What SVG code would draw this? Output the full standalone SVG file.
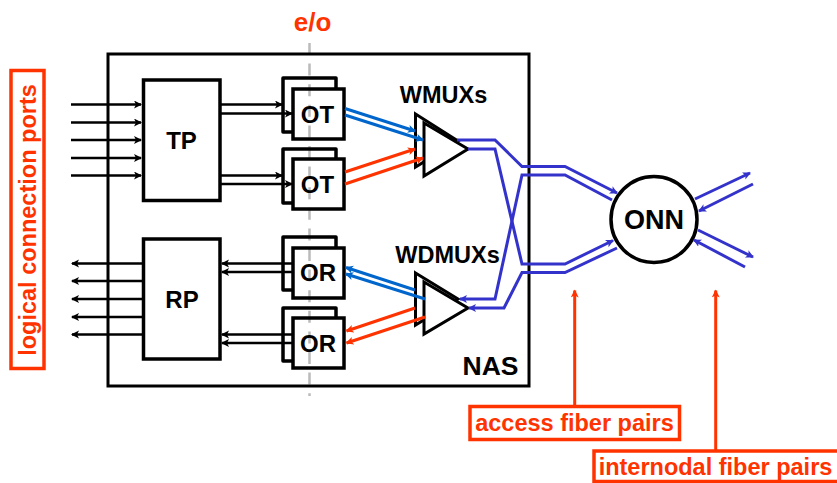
<svg xmlns="http://www.w3.org/2000/svg" width="837" height="483" viewBox="0 0 837 483">
<style>
text{font-family:"Liberation Sans",Arial,sans-serif;font-weight:bold;text-anchor:middle}
.b{fill:#fff;stroke:#000;stroke-width:3.5;stroke-linejoin:miter}
.v{fill:#fff;stroke:#000;stroke-width:3;stroke-linejoin:miter}
.f{fill:none;stroke:#000;stroke-width:3.5}
.o{fill:none;stroke:#000;stroke-width:3.500;stroke-linejoin:round}
.t{font-size:24px;fill:#000}
.k{stroke:#000;stroke-width:2.5;fill:none}
.u{stroke:#3333cc;stroke-width:3;fill:none;stroke-linejoin:miter}
.c{stroke:#0066cc;stroke-width:3;fill:none}
.r{stroke:#ff3300;stroke-width:3;fill:none}
.l{fill:#fff;stroke:#ff3300;stroke-width:3.5}
.lt{font-size:23.500px;fill:#ff3300}
</style>
<defs>
<marker id="ak" markerUnits="userSpaceOnUse" markerWidth="10" markerHeight="10" refX="7" refY="4" orient="auto"><path d="M0 0L8 4L0 8L2 4Z" fill="#000"/></marker>
<marker id="au" markerUnits="userSpaceOnUse" markerWidth="10" markerHeight="10" refX="7" refY="4" orient="auto"><path d="M0 0L8 4L0 8L2 4Z" fill="#3333cc"/></marker>
<marker id="ac" markerUnits="userSpaceOnUse" markerWidth="10" markerHeight="10" refX="7" refY="4" orient="auto"><path d="M0 0L8 4L0 8L2 4Z" fill="#0066cc"/></marker>
<marker id="ar" markerUnits="userSpaceOnUse" markerWidth="10" markerHeight="10" refX="7" refY="4" orient="auto"><path d="M0 0L8 4L0 8L2 4Z" fill="#ff3300"/></marker>
</defs>
<rect width="837" height="483" fill="#fff"/>
<path id="eo-line" d="M309.500 43V396" stroke="#bbbbbb" stroke-width="2.500" stroke-dasharray="12 8.600" fill="none"/>
<g id="nas"><rect x="108" y="54" width="421" height="332" fill="none" stroke="#000" stroke-width="3"/><text class="t" x="490.500" y="375" style="font-size:26.500px">NAS</text></g>
<g id="tp"><rect class="b" x="143.500" y="80" width="76.500" height="120.500"/><text class="t" x="181.500" y="148.500">TP</text></g>
<g id="rp"><rect class="b" x="143.500" y="239" width="76.500" height="120"/><text class="t" x="182" y="307.500">RP</text></g>
<g id="ot1"><path class="o" d="M293 132H283V78H336V89"/><rect class="f" x="293" y="89" width="51" height="50"/><text class="t" x="317.500" y="122.500">OT</text></g>
<g id="ot2"><path class="o" d="M293 203H283V149H336V159"/><rect class="f" x="293" y="159" width="51" height="50"/><text class="t" x="317.500" y="193">OT</text></g>
<g id="or1"><path class="o" d="M293 290H283V237H336V248"/><rect class="f" x="293" y="248" width="51" height="50"/><text class="t" x="318" y="281">OR</text></g>
<g id="or2"><path class="o" d="M293 361H283V308H336V318"/><rect class="f" x="293" y="318" width="51" height="50"/><text class="t" x="318" y="352">OR</text></g>
<g id="wmux"><path class="v" d="M415.500 114L458 141L415.500 167Z"/><path class="v" d="M424 123L468 149L424 176Z"/><text class="t" x="443.500" y="102.500" style="font-size:23.500px">WMUXs</text></g>
<g id="wdmux"><path class="v" d="M415.500 273L458 299L415.500 325Z"/><path class="v" d="M424 282L468 308L424 334Z"/><text class="t" x="447.500" y="263" style="font-size:23.500px">WDMUXs</text></g>
<g id="onn"><circle cx="654" cy="219.500" r="43" fill="#fff" stroke="#000" stroke-width="3.500"/><text class="t" x="654" y="228.500" style="font-size:27px">ONN</text></g>
<g id="connectors">
<g class="k">
<path d="M71 104.500H141" marker-end="url(#ak)"/><path d="M71 122.500H141" marker-end="url(#ak)"/><path d="M71 140H141" marker-end="url(#ak)"/><path d="M71 158H141" marker-end="url(#ak)"/><path d="M71 175.500H141" marker-end="url(#ak)"/>
<path d="M221 104.500H282" marker-end="url(#ak)"/><path d="M221 113.500H292" marker-end="url(#ak)"/><path d="M221 175.500H282" marker-end="url(#ak)"/><path d="M221 184H292" marker-end="url(#ak)"/>
<path d="M143 263.500H72" marker-end="url(#ak)"/><path d="M143 281H72" marker-end="url(#ak)"/><path d="M143 299H72" marker-end="url(#ak)"/><path d="M143 317H72" marker-end="url(#ak)"/><path d="M143 334.500H72" marker-end="url(#ak)"/>
<path d="M293 263.500H222" marker-end="url(#ak)"/><path d="M293 272H222" marker-end="url(#ak)"/><path d="M293 334.500H222" marker-end="url(#ak)"/><path d="M293 343H222" marker-end="url(#ak)"/>
</g>
<path class="c" d="M345 108.500L415 131" marker-end="url(#ac)"/><path class="c" d="M345 115L423 140" marker-end="url(#ac)"/>
<path class="r" d="M345 172L415 149" marker-end="url(#ar)"/><path class="r" d="M345 184L423 158" marker-end="url(#ar)"/>
<path class="c" d="M415 290L346 267.500" marker-end="url(#ac)"/><path class="c" d="M425 299L346 274" marker-end="url(#ac)"/>
<path class="r" d="M415 308L346.500 331" marker-end="url(#ar)"/><path class="r" d="M425 317L346.500 343" marker-end="url(#ar)"/>
<path class="u" d="M457 140H495L522 166.500H565L617 193" marker-end="url(#au)"/>
<path class="u" d="M468 149H495L522 264H565L613 240.500" marker-end="url(#au)"/>
<path class="u" d="M612 200L565 175H522L495 299H460" marker-end="url(#au)"/>
<path class="u" d="M617 248L565 272.500H522L504 308H469" marker-end="url(#au)"/>
<path class="u" d="M695 199L750 173" marker-end="url(#au)"/><path class="u" d="M753 184L699 211" marker-end="url(#au)"/>
<path class="u" d="M698 230L753 257" marker-end="url(#au)"/><path class="u" d="M745 267L694 240" marker-end="url(#au)"/>
<path class="r" d="M574.700 406V290.500" marker-end="url(#ar)"/><path class="r" d="M715.700 450V290.500" marker-end="url(#ar)"/>
</g>
<g id="eo"><text class="lt" x="312.500" y="30.500" style="font-size:26px">e/o</text></g>
<g id="ports"><rect class="l" x="11" y="70.500" width="33" height="298"/><text class="lt" transform="translate(36 220) rotate(-90)">logical connection ports</text></g>
<g id="access"><rect class="l" x="470" y="406.500" width="209.500" height="33"/><text class="lt" x="574.500" y="430.500">access fiber pairs</text></g>
<g id="internodal"><rect class="l" x="594" y="451" width="250" height="30.500"/><text class="lt" x="715.500" y="475">internodal fiber pairs</text></g>
</svg>
